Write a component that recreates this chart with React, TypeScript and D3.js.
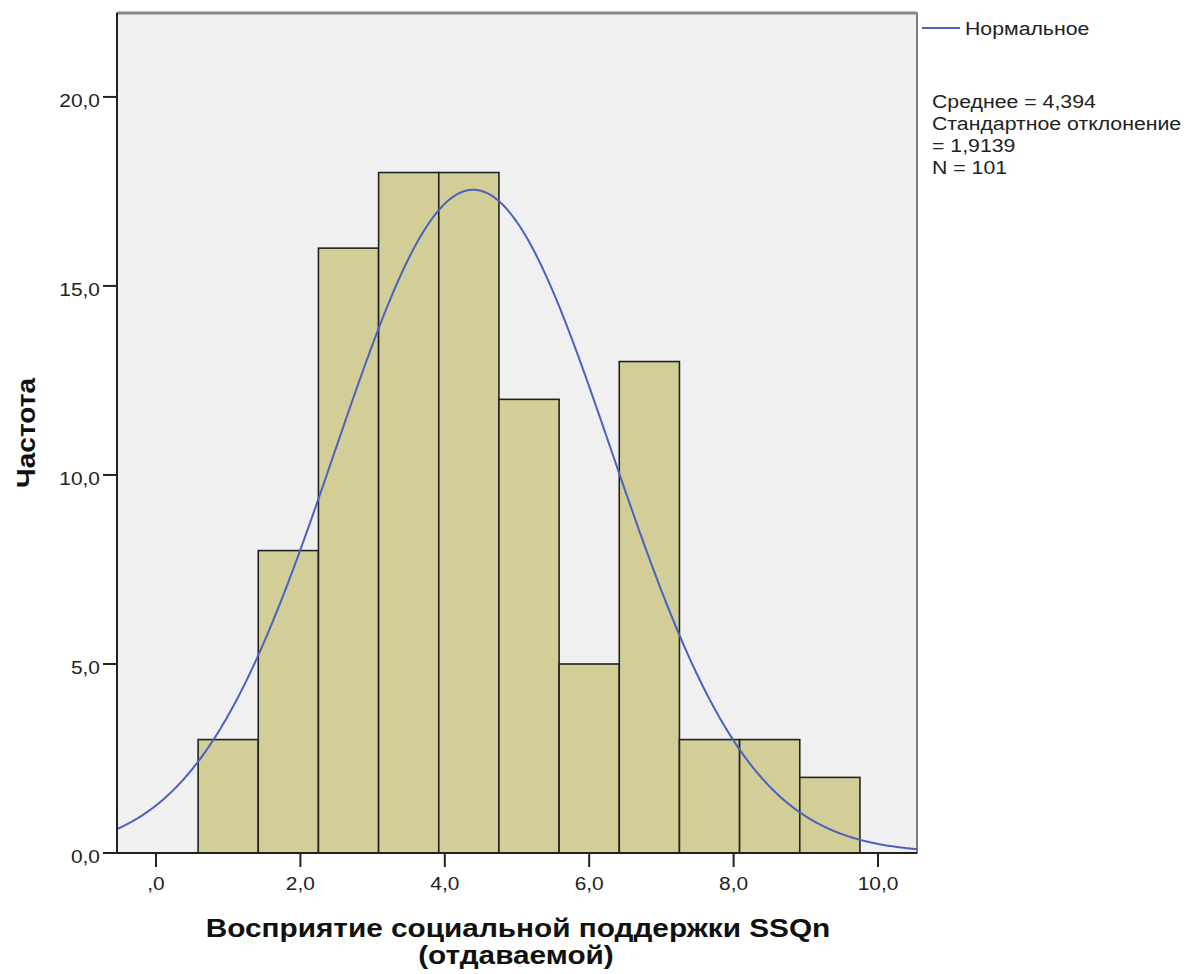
import React from "react";
import * as d3 from "d3";

const counts = [3, 8, 16, 18, 18, 12, 5, 13, 3, 3, 2];
const binStart = 0.5833;
const binWidth = 0.8333;
const mean = 4.394;
const sd = 1.9139;
const n = 101;
const xTicks = [0, 2, 4, 6, 8, 10];
const yTicks = [0, 5, 10, 15, 20];
const statsLines = ["Среднее = 4,394", "Стандартное отклонение", "= 1,9139", "N = 101"];

const fmtX = (v: number) => (v === 0 ? ",0" : v.toFixed(1).replace(".", ","));
const fmtY = (v: number) => v.toFixed(1).replace(".", ",");

type TProps = { x: number; y: number; sx?: number; anchor?: string; size: number; bold?: boolean; children: React.ReactNode; rotate?: number };
function T({ x, y, sx = 1.15, anchor = "start", size, bold, children, rotate = 0 }: TProps) {
  return (
    <g transform={`translate(${x},${y}) rotate(${rotate}) scale(${sx},1)`}>
      <text x={0} y={0} textAnchor={anchor as any} fontSize={size} fontWeight={bold ? "bold" : "normal"} fill={bold ? "#111" : "#222"}>
        {children}
      </text>
    </g>
  );
}

export default function App() {
  const W = 1204, H = 974;
  const left = 117, right = 917, top = 13, bottom = 853;
  const x = d3.scaleLinear().domain([-0.54, 10.54]).range([left, right]);
  const y = d3.scaleLinear().domain([0, 22.22]).range([bottom, top]);
  const bins = counts.map((c, i) => ({ x0: binStart + i * binWidth, x1: binStart + (i + 1) * binWidth, c }));
  const pts: [number, number][] = d3.range(-0.54, 10.5401, 0.02).map((v) => [
    v,
    (n * binWidth) / (sd * Math.sqrt(2 * Math.PI)) * Math.exp(-0.5 * ((v - mean) / sd) ** 2),
  ]);
  const line = d3.line<[number, number]>().x((d) => x(d[0])).y((d) => y(d[1]));
  const font = "Arial, 'Liberation Sans', sans-serif";
  return (
    <svg width={W} height={H} style={{ position: "absolute", left: 0, top: 0 }} fontFamily={font}>
      <rect x={0} y={0} width={W} height={H} fill="#fff" />
      <rect x={left} y={top} width={right - left} height={bottom - top} fill="#f0f0f0" stroke="#555" strokeWidth={1.5} />
      <line x1={left} x2={right} y1={top} y2={top} stroke="#888" strokeWidth={3} />
      {bins.map((b, i) => (
        <rect key={i} x={x(b.x0)} y={y(b.c)} width={x(b.x1) - x(b.x0)} height={y(0) - y(b.c)} fill="#d3ce97" stroke="#222" strokeWidth={1.6} />
      ))}
      <path d={line(pts) || ""} fill="none" stroke="#4a62bd" strokeWidth={2} />
      <line x1={left} x2={left} y1={top} y2={bottom} stroke="#222" strokeWidth={2} />
      <line x1={left} x2={right} y1={bottom} y2={bottom} stroke="#222" strokeWidth={2} />
      {yTicks.map((t) => (
        <g key={t}>
          <line x1={left - 14} x2={left} y1={y(t)} y2={y(t)} stroke="#222" strokeWidth={2} />
          <T x={left - 17} y={y(t) + 10} anchor="end" size={19} sx={1.1}>{fmtY(t)}</T>
        </g>
      ))}
      {xTicks.map((t) => (
        <g key={t}>
          <line x1={x(t)} x2={x(t)} y1={bottom} y2={bottom + 14} stroke="#222" strokeWidth={2} />
          <T x={x(t)} y={bottom + 37} anchor="middle" size={19} sx={1.1}>{fmtX(t)}</T>
        </g>
      ))}
      <T x={35} y={433} rotate={-90} anchor="middle" size={26} bold sx={1.08}>Частота</T>
      <T x={518} y={937} anchor="middle" size={26} bold sx={1.145}>Восприятие социальной поддержки SSQn</T>
      <T x={516} y={964} anchor="middle" size={26} bold sx={1.145}>(отдаваемой)</T>
      <line x1={922} x2={960} y1={28} y2={28} stroke="#4a62bd" strokeWidth={2} />
      <T x={965} y={35} size={19} sx={1.12}>Нормальное</T>
      {statsLines.map((s, i) => (
        <T key={i} x={932} y={107.5 + i * 22} size={19} sx={1.12}>{s}</T>
      ))}
    </svg>
  );
}
